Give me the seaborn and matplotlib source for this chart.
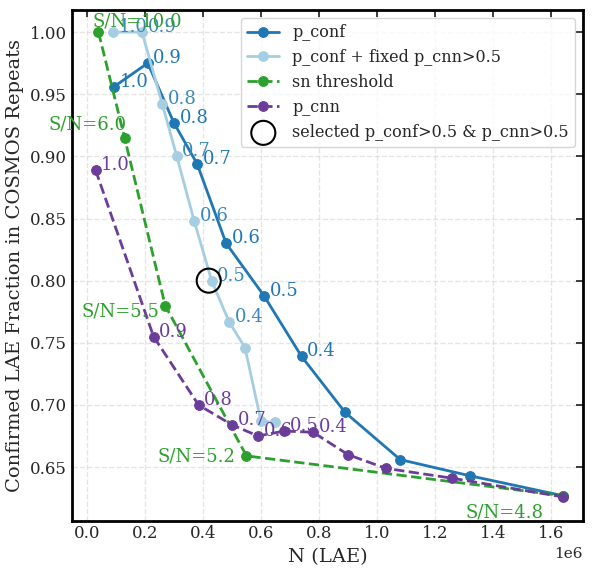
import matplotlib
matplotlib.use("Agg")
import matplotlib.pyplot as plt
import seaborn as sns
import pandas as pd

sns.set_theme(style="white")
plt.rcParams['font.family'] = ['DejaVu Serif']

conf_x = [0.093, 0.21, 0.30, 0.38, 0.48, 0.61, 0.74, 0.89, 1.08, 1.32, 1.64]
conf_y = [0.956, 0.975, 0.927, 0.894, 0.830, 0.788, 0.739, 0.694, 0.656, 0.643, 0.627]
conf_lab = ["1.0", "0.9", "0.8", "0.7", "0.6", "0.5", "0.4", "", "", "", ""]

fix_x = [0.09, 0.19, 0.26, 0.31, 0.37, 0.43, 0.49, 0.545, 0.60, 0.65]
fix_y = [1.0, 1.0, 0.942, 0.90, 0.848, 0.80, 0.767, 0.746, 0.687, 0.686]
fix_lab = ["1.0", "0.9", "0.8", "0.7", "0.6", "0.5", "0.4", "", "", ""]

sn_x = [0.04, 0.13, 0.27, 0.55, 1.64]
sn_y = [1.0, 0.915, 0.78, 0.659, 0.627]
sn_lab = ["S/N=10.0", "S/N=6.0", "S/N=5.5", "S/N=5.2", "S/N=4.8"]

cnn_x = [0.03, 0.23, 0.385, 0.50, 0.59, 0.68, 0.78, 0.90, 1.03, 1.26, 1.64]
cnn_y = [0.889, 0.755, 0.70, 0.684, 0.675, 0.679, 0.678, 0.66, 0.649, 0.641, 0.626]
cnn_lab = ["1.0", "0.9", "0.8", "0.7", "0.6", "0.5", "0.4", "", "", "", ""]

sel_x, sel_y = [0.42], [0.80]

c_conf, c_fix, c_sn, c_cnn = "#1f77b4", "#a6cee3", "#2ca02c", "#6a3d9a"

fig, ax = plt.subplots(figsize=(5.98, 5.72), dpi=100)
sns.lineplot(x=[v * 1e6 for v in conf_x], y=conf_y, ax=ax, color=c_conf, lw=2, marker="o", ms=7, mec=c_conf, sort=False, label="p_conf")
sns.lineplot(x=[v * 1e6 for v in fix_x], y=fix_y, ax=ax, color=c_fix, lw=2, marker="o", ms=7, mec=c_fix, sort=False, label="p_conf + fixed p_cnn>0.5")
sns.lineplot(x=[v * 1e6 for v in sn_x], y=sn_y, ax=ax, color=c_sn, lw=2, ls="--", marker="o", ms=7, mec=c_sn, sort=False, label="sn threshold")
sns.lineplot(x=[v * 1e6 for v in cnn_x], y=cnn_y, ax=ax, color=c_cnn, lw=2, ls="--", marker="o", ms=7, mec=c_cnn, sort=False, label="p_cnn")
ax.scatter([v * 1e6 for v in sel_x], sel_y, s=300, facecolors="none", edgecolors="black", lw=1.5, zorder=5, label="selected p_conf>0.5 & p_cnn>0.5")

for xs, ys, labs, c in [(conf_x, conf_y, conf_lab, c_conf), (fix_x, fix_y, fix_lab, c_fix), (cnn_x, cnn_y, cnn_lab, c_cnn)]:
    for x, y, l in zip(xs, ys, labs):
        if l:
            ax.annotate(l, (x * 1e6, y), xytext=(4, 0), textcoords="offset points", color=c if c != c_fix else "#3a88b8", fontsize=13)
sn_off = [(-4, 4), (-55, 6), (-60, -8), (-64, -4), (-70, -16)]
for x, y, l, o in zip(sn_x, sn_y, sn_lab, sn_off):
    ax.annotate(l, (x * 1e6, y), xytext=o, textcoords="offset points", color=c_sn, fontsize=13)

ax.set_xlim(-0.052e6, 1.71e6)
ax.set_ylim(0.607, 1.018)
ax.set_xlabel("N (LAE)", fontsize=14)
ax.set_ylabel("Confirmed LAE Fraction in COSMOS Repeats", fontsize=14)
ax.grid(True, ls="--", alpha=0.5)
ax.tick_params(direction="in", labelsize=12, length=5, top=True, right=True)
ax.xaxis.get_offset_text().set_fontsize(11)
for s in ax.spines.values():
    s.set_linewidth(2)
    s.set_color("black")
ax.legend(loc="upper right", fontsize=11.5, frameon=True)
fig.subplots_adjust(left=0.12, right=0.975, top=0.983, bottom=0.09)
fig.savefig("out.png", dpi=100)
